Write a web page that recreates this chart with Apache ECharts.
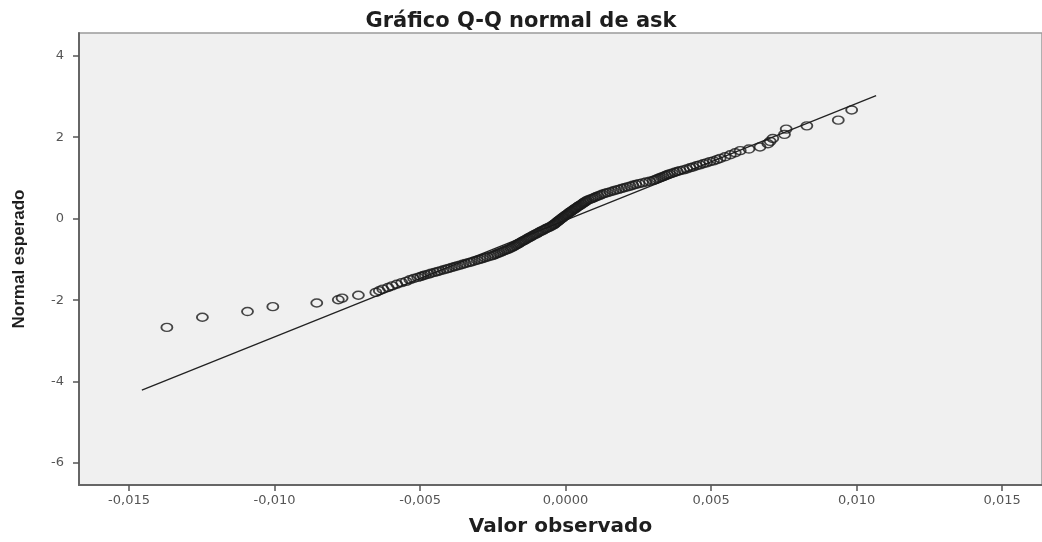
<!DOCTYPE html>
<html>
<head>
<meta charset="utf-8">
<script src="https://cdn.jsdelivr.net/npm/echarts@6/dist/echarts.min.js"></script>
<style>
  html, body { margin: 0; padding: 0; background: #ffffff; }
  #chart { width: 1042px; height: 542px; }
</style>
</head>
<body>
<div id="chart"></div>
<script>
// ---- Data ----
var titleText = "Gráfico Q-Q normal de ask";
var xAxisTitle = "Valor observado";
var yAxisTitle = "Normal esperado";

var xTickValues = [-0.015, -0.010, -0.005, 0, 0.005, 0.010, 0.015];
var xTickLabels = ["-0,015", "-0,010", "-0,005", "0,0000", "0,005", "0,010", "0,015"];
var yTickValues = [-6, -4, -2, 0, 2, 4];
var yTickLabels = ["-6", "-4", "-2", "0", "2", "4"];

// observed values (x) of the points
var observed = [
  -0.01370, -0.01248, -0.01093, -0.01006, -0.00855, -0.00781, -0.00768, -0.00712,
  -0.00652, -0.00640, -0.00628, -0.00610, -0.00596, -0.00580, -0.00563, -0.00548,
  -0.00535, -0.00522, -0.00508, -0.00498,
  -0.00490, -0.00482, -0.00471, -0.00462, -0.00451, -0.00441, -0.00432, -0.00421,
  -0.00411, -0.00402, -0.00392, -0.00382, -0.00373, -0.00363,
  -0.00353, -0.00344, -0.00333, -0.00324, -0.00314, -0.00304,
  -0.00295, -0.00286, -0.00277, -0.00268, -0.00258, -0.00249,
  -0.00242, -0.00235, -0.00229, -0.00222, -0.00215, -0.00208, -0.00201, -0.00195, -0.00188,
  -0.00183, -0.00178, -0.00173, -0.00168, -0.00163, -0.00159, -0.00154, -0.00149, -0.00144, -0.00139, -0.00134,
  -0.00129, -0.00124, -0.00119, -0.00114, -0.00109, -0.00103, -0.00098, -0.00093, -0.00088,
  -0.00082, -0.00077, -0.00071, -0.00066, -0.00060, -0.00054, -0.00049, -0.00043,
  -0.00040, -0.00036, -0.00033, -0.00029, -0.00026, -0.00022, -0.00019, -0.00015,
  -0.00011, -0.00008, -0.00004, 0.00000, 0.00004, 0.00008, 0.00011, 0.00015,
  0.00019, 0.00023, 0.00027, 0.00031, 0.00035, 0.00039, 0.00043, 0.00047, 0.00052, 0.00056, 0.00060, 0.00064, 0.00068, 0.00072,
  0.00078, 0.00085, 0.00092, 0.00099, 0.00105, 0.00112, 0.00119, 0.00126,
  0.00134, 0.00143, 0.00153, 0.00163, 0.00172, 0.00182,
  0.00192, 0.00202, 0.00212, 0.00222, 0.00231, 0.00241,
  0.00252, 0.00264, 0.00276, 0.00289, 0.00301,
  0.00308, 0.00315, 0.00322, 0.00329, 0.00336, 0.00343, 0.00350, 0.00357,
  0.00366, 0.00375, 0.00384, 0.00393, 0.00405,
  0.00416, 0.00428, 0.00438, 0.00450, 0.00461, 0.00473, 0.00484, 0.00496, 0.00508, 0.00520,
  0.00531, 0.00548, 0.00566, 0.00583, 0.00600, 0.00630, 0.00668, 0.00695, 0.00703, 0.00712,
  0.00752, 0.00758, 0.00829, 0.00937, 0.00983
];
// expected normal values (y) of the points
var expected = [
  -2.67, -2.42, -2.28, -2.16, -2.07, -1.99, -1.95, -1.88,
  -1.81, -1.77, -1.73, -1.69, -1.65, -1.61, -1.57, -1.54,
  -1.50, -1.47, -1.44, -1.42,
  -1.40, -1.38, -1.36, -1.34, -1.32, -1.30, -1.28, -1.26,
  -1.24, -1.22, -1.20, -1.18, -1.16, -1.14,
  -1.12, -1.10, -1.08, -1.06, -1.04, -1.02,
  -1.00, -0.98, -0.96, -0.94, -0.92, -0.90,
  -0.88, -0.86, -0.84, -0.82, -0.80, -0.78, -0.76, -0.74, -0.72,
  -0.70, -0.68, -0.66, -0.64, -0.62, -0.60, -0.58, -0.56, -0.54, -0.52, -0.50,
  -0.48, -0.46, -0.44, -0.42, -0.40, -0.38, -0.36, -0.34, -0.32,
  -0.30, -0.28, -0.26, -0.24, -0.22, -0.20, -0.18, -0.16,
  -0.14, -0.12, -0.10, -0.08, -0.06, -0.04, -0.02, 0.00,
  0.02, 0.04, 0.06, 0.08, 0.10, 0.12, 0.14, 0.16,
  0.18, 0.20, 0.22, 0.24, 0.26, 0.28, 0.30, 0.32, 0.34, 0.36, 0.38, 0.40, 0.42, 0.44,
  0.46, 0.48, 0.50, 0.52, 0.54, 0.56, 0.58, 0.60,
  0.62, 0.64, 0.66, 0.68, 0.70, 0.72,
  0.74, 0.76, 0.78, 0.80, 0.82, 0.84,
  0.86, 0.88, 0.90, 0.92, 0.94,
  0.96, 0.98, 1.00, 1.02, 1.04, 1.06, 1.08, 1.10,
  1.12, 1.14, 1.16, 1.18, 1.20,
  1.22, 1.25, 1.27, 1.30, 1.32, 1.35, 1.37, 1.40, 1.42, 1.45,
  1.48, 1.52, 1.57, 1.62, 1.67, 1.71, 1.76, 1.84, 1.90, 1.97,
  2.07, 2.20, 2.28, 2.42, 2.67
];

// reference line end points
var lineX = [-0.01456, 0.01067];
var lineY = [-4.21, 3.02];

// ---- build the chart ----
var points = observed.map(function (v, i) { return [v, expected[i]]; });
var linePts = lineX.map(function (v, i) { return [v, lineY[i]]; });

function lookup(values, labels, v) {
  for (var i = 0; i < values.length; i++) {
    if (Math.abs(values[i] - v) < 1e-9) return labels[i];
  }
  return '';
}

var chart = echarts.init(document.getElementById('chart'), null, { renderer: 'canvas' });
chart.setOption({
  animation: false,
  backgroundColor: '#ffffff',
  title: {
    text: titleText,
    left: 'center',
    top: 6,
    textStyle: { fontFamily: 'DejaVu Sans', fontWeight: 'bold', fontSize: 21, color: '#1e1e1e' }
  },
  grid: {
    left: 79, right: 0, top: 33, bottom: 54,
    show: true,
    backgroundColor: '#f0f0f0',
    borderColor: '#9a9a9a',
    borderWidth: 1.5
  },
  xAxis: {
    type: 'value',
    min: -0.01672,
    max: 0.01637,
    name: xAxisTitle,
    nameLocation: 'middle',
    nameGap: 32,
    nameTextStyle: { fontFamily: 'DejaVu Sans', fontWeight: 'bold', fontSize: 20, color: '#1e1e1e' },
    axisLine: { show: true, onZero: false, lineStyle: { color: '#666', width: 2 } },
    axisTick: { show: true, length: 6, customValues: xTickValues, lineStyle: { color: '#555', width: 1.5 } },
    axisLabel: {
      customValues: xTickValues,
      margin: 9,
      fontFamily: 'DejaVu Sans', fontSize: 13, color: '#555',
      formatter: function (v) { return lookup(xTickValues, xTickLabels, v); }
    },
    splitLine: { show: false }
  },
  yAxis: {
    type: 'value',
    min: -6.54,
    max: 4.56,
    name: yAxisTitle,
    nameLocation: 'middle',
    nameGap: 51,
    nameRotate: 90,
    nameTextStyle: { fontFamily: 'Liberation Sans', fontWeight: 'bold', fontSize: 17, color: '#1e1e1e' },
    axisLine: { show: true, onZero: false, lineStyle: { color: '#666', width: 2 } },
    axisTick: { show: true, length: 6, customValues: yTickValues, lineStyle: { color: '#555', width: 1.5 } },
    axisLabel: {
      customValues: yTickValues,
      margin: 15,
      fontFamily: 'DejaVu Sans', fontSize: 13, color: '#555',
      formatter: function (v) { return lookup(yTickValues, yTickLabels, v); }
    },
    splitLine: { show: false }
  },
  series: [
    {
      type: 'line',
      data: linePts,
      symbol: 'none',
      lineStyle: { color: '#222', width: 1.3 },
      silent: true,
      z: 2
    },
    {
      type: 'scatter',
      data: points,
      symbol: 'path://M0,4a5,4 0 1,0 10,0a5,4 0 1,0 -10,0',
      symbolSize: [11, 8],
      itemStyle: { color: 'rgba(0,0,0,0)', borderColor: '#1a1a1a', borderWidth: 1.6 },
      z: 3
    }
  ]
});
</script>
</body>
</html>
